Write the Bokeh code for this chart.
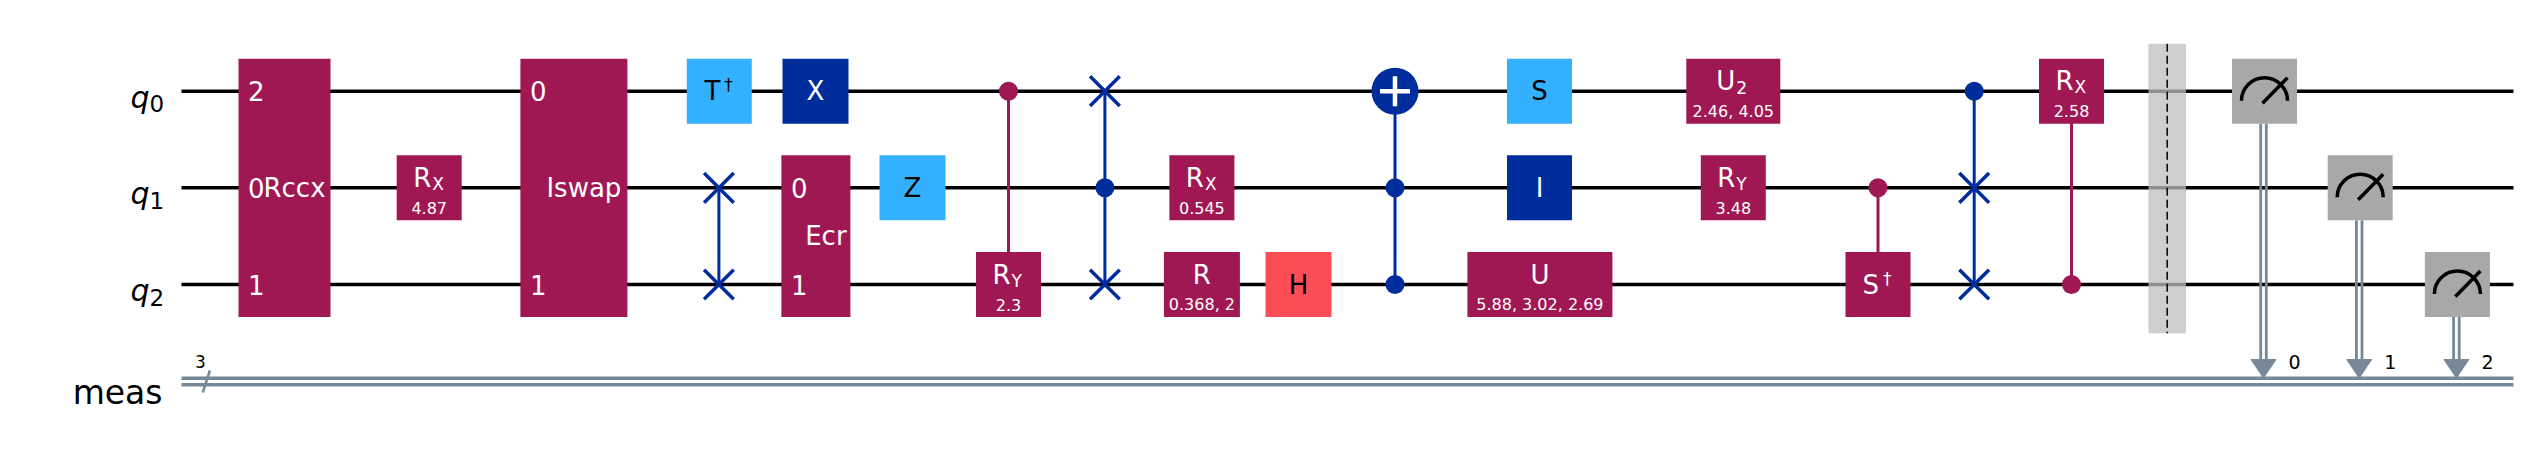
from math import pi

from bokeh.core.properties import value
from bokeh.embed import file_html
from bokeh.models import Range1d
from bokeh.plotting import figure
from bokeh.resources import INLINE

MAGENTA = "#9f1853"
DARK = "#002d9c"
LIGHT = "#33b1ff"
RED = "#fa4d56"
GREY = "#a8a8a8"
CLS = "#778899"
FONT = value("DejaVu Sans")

# wires (pixel layout of the circuit)
wire_subs = ["0", "1", "2"]
wire_y = [90.7, 187.3, 284.0]
creg_y = 381.0
creg_size = "3"
wire_x0, wire_x1 = 181, 2513

# single-qubit boxes
box_name = ["R", "T", "X", "Z", "R", "R", "R", "H", "S", "I", "U", "U", "R", "S", "R"]
box_sub = ["X", "", "", "", "Y", "X", "", "", "", "", "", "2", "Y", "", "X"]
box_sup = ["", "\u2020", "", "", "", "", "", "", "", "", "", "", "", "\u2020", ""]
box_param = ["4.87", "", "", "", "2.3", "0.545", "0.368, 2", "", "", "", "5.88, 3.02, 2.69",
             "2.46, 4.05", "3.48", "", "2.58"]
box_qubit = [1, 0, 0, 1, 2, 1, 2, 2, 0, 1, 2, 0, 1, 2, 0]
box_col = [428.7, 718.8, 815.0, 912.0, 1008.0, 1201.4, 1201.4, 1298.0, 1539.0, 1539.0,
           1539.4, 1732.8, 1732.8, 1877.5, 2071.0]
box_width = [65, 65, 66, 66, 65, 65, 76, 66, 65, 65, 145, 94, 65, 65, 65]
box_color = [MAGENTA, LIGHT, DARK, LIGHT, MAGENTA, MAGENTA, MAGENTA, RED, LIGHT, DARK,
             MAGENTA, MAGENTA, MAGENTA, MAGENTA, MAGENTA]

# multi-qubit boxes
multi_name = ["Rccx", "Iswap", "Ecr"]
multi_col = [284.0, 573.4, 815.4]
multi_width = [92, 107, 69]
multi_qubits = [[0, 1, 2], [0, 2], [1, 2]]
multi_index = [["2", "0", "1"], ["0", "1"], ["0", "1"]]

# vertical links of controlled / swap gates
link_col = [718.4, 1008.0, 1104.4, 1394.5, 1877.5, 1973.7, 2071.0]
link_from = [1, 0, 0, 0, 1, 0, 0]
link_to = [2, 2, 2, 2, 2, 2, 2]
link_color = [DARK, MAGENTA, DARK, DARK, MAGENTA, DARK, MAGENTA]

ctrl_col = [1008.0, 1104.4, 1394.5, 1394.5, 1877.5, 1973.7, 2071.0]
ctrl_qubit = [0, 1, 1, 2, 1, 0, 2]
ctrl_color = [MAGENTA, DARK, DARK, DARK, MAGENTA, DARK, MAGENTA]

swap_col = [718.4, 718.4, 1104.4, 1104.4, 1973.7, 1973.7]
swap_qubit = [1, 2, 0, 2, 1, 2]

targ_col = [1394.5]
targ_qubit = [0]

barrier_col = 2166.7

meas_col = [2264.0, 2359.7, 2456.9]
meas_qubit = [0, 1, 2]
meas_clbit = ["0", "1", "2"]

HALF = 32.5

p = figure(width=2519, height=438, x_range=Range1d(0, 2519), y_range=Range1d(438, 0),
           output_backend="svg", toolbar_location=None, min_border=0,
           x_axis_location=None, y_axis_location=None)
p.grid.grid_line_color = None
p.outline_line_color = None
p.background_fill_color = "white"


def txt(x, y, s, size, color="black", align="center", style="normal", baseline="middle"):
    p.text(x=[x], y=[y], text=[s], text_font=FONT, text_font_size=value(size),
           text_color=color, text_align=align, text_baseline=baseline,
           text_font_style=style)


# wires and labels
p.segment(x0=[wire_x0] * 3, y0=wire_y, x1=[wire_x1] * 3, y1=wire_y, line_color="black", line_width=3.5)
p.segment(x0=[wire_x0] * 2, y0=[creg_y - 3.3, creg_y + 3.3], x1=[wire_x1] * 2,
          y1=[creg_y - 3.3, creg_y + 3.3], line_color=CLS, line_width=3.5)
for s, y in zip(wire_subs, wire_y):
    txt(149, y + 6, "q", "30px", align="right", style="italic", baseline="alphabetic")
    txt(149, y + 12.6, s, "23px", align="left", baseline="alphabetic")
txt(162, creg_y + 11, "meas", "33px", align="right", baseline="alphabetic")
p.segment(x0=[202.3], y0=[creg_y + 11], x1=[209.4], y1=[creg_y - 11], line_color=CLS, line_width=2.5)
txt(200, 360.5, creg_size, "17px")

# links
p.segment(x0=link_col, y0=[wire_y[q] for q in link_from], x1=link_col,
          y1=[wire_y[q] for q in link_to], line_color=link_color, line_width=3)

# measurement arrows
for x, q, c in zip(meas_col, meas_qubit, meas_clbit):
    p.segment(x0=[x - 3.8, x + 1.8], y0=[wire_y[q] + HALF] * 2, x1=[x - 3.8, x + 1.8],
              y1=[362, 362], line_color=CLS, line_width=2.8)
    p.patch(x=[x - 13.5, x + 11.5, x - 1], y=[359, 359, 377.5], fill_color=CLS, line_color=CLS)
    txt(x + 24, 361, c, "19px", align="left")

# multi-qubit boxes
for name, x, w, qs, idx in zip(multi_name, multi_col, multi_width, multi_qubits, multi_index):
    top, bot = wire_y[qs[0]] - HALF, wire_y[qs[-1]] + HALF
    p.quad(left=[x - w / 2], right=[x + w / 2], top=[top], bottom=[bot], fill_color=MAGENTA, line_color=None)
    for q, s in zip(qs, idx):
        txt(x - w / 2 + 9.5, wire_y[q], s, "26px", "white", align="left")
    txt(x + 10, (wire_y[qs[0]] + wire_y[qs[-1]]) / 2, name, "26px", "white")

# single-qubit boxes
for name, sub, sup, par, q, x, w, col in zip(box_name, box_sub, box_sup, box_param,
                                              box_qubit, box_col, box_width, box_color):
    y = wire_y[q]
    p.quad(left=[x - w / 2], right=[x + w / 2], top=[y - HALF], bottom=[y + HALF], fill_color=col, line_color=None)
    tc = "black" if col in (LIGHT, RED) else "white"
    my = y - 10 if par else y
    if sub:
        txt(x + 2, my, name, "26px", tc, align="right")
        txt(x + 3, my + 6, sub, "17px", tc, align="left")
    elif sup:
        txt(x + 1, my, name, "26px", tc, align="right")
        txt(x + 5, my - 6, sup, "17px", tc, align="left")
    else:
        txt(x, my, name, "26px", tc)
    if par:
        txt(x, y + 20, par, "16px", tc)

# controls, swaps, targets
p.scatter(x=ctrl_col, y=[wire_y[q] for q in ctrl_qubit], size=19, marker="circle",
          fill_color=ctrl_color, line_color=None)
p.scatter(x=swap_col, y=[wire_y[q] for q in swap_qubit], size=42, marker="x",
          line_color=DARK, line_width=3.5)
p.scatter(x=targ_col, y=[wire_y[q] for q in targ_qubit], size=47, marker="circle",
          fill_color=DARK, line_color=None)
p.scatter(x=targ_col, y=[wire_y[q] for q in targ_qubit], size=30, marker="cross",
          line_color="white", line_width=4.5)

# measurement boxes
for x, q in zip(meas_col, meas_qubit):
    y = wire_y[q]
    p.quad(left=[x - HALF], right=[x + HALF], top=[y - HALF], bottom=[y + HALF], fill_color=GREY, line_color=None)
    p.arc(x=[x], y=[y + 9.5], radius=23, start_angle=0, end_angle=pi, line_color="black", line_width=3.5)
    p.segment(x0=[x - 2], y0=[y + 12], x1=[x + 23], y1=[y - 13.5], line_color="black", line_width=3.5)

# barrier
p.quad(left=[barrier_col - 18.8], right=[barrier_col + 18.8], top=[43.3], bottom=[332.7],
       fill_color="#bdbdbd", fill_alpha=0.75, line_color=None)
p.segment(x0=[barrier_col], y0=[43.3], x1=[barrier_col], y1=[332.7], line_color="black",
          line_width=1.5, line_dash="8 4")

open("out.html", "w").write(file_html(p, INLINE))
